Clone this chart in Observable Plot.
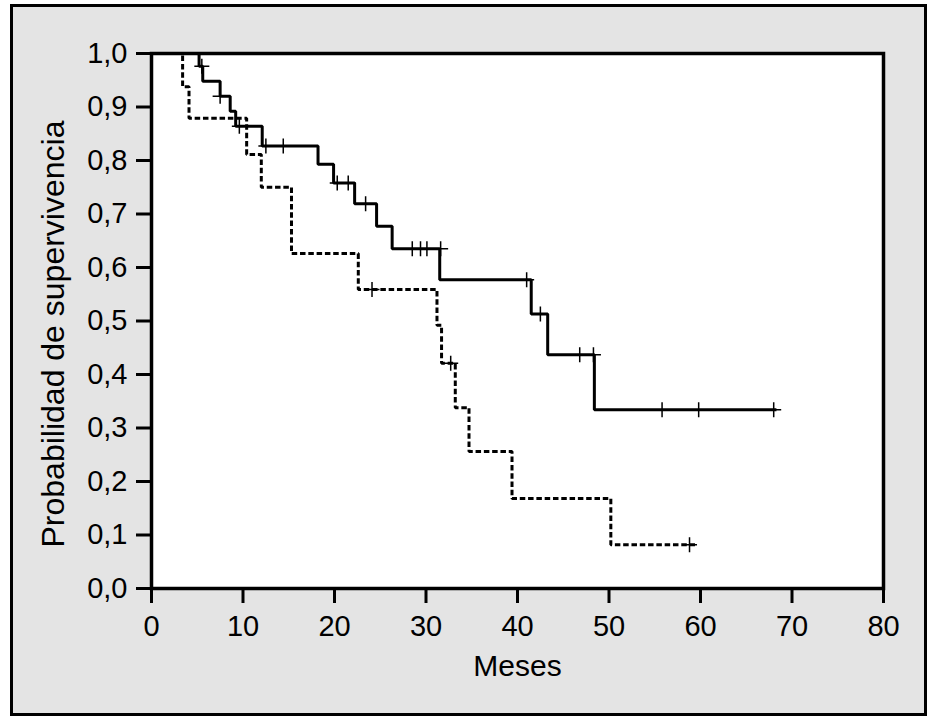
<!DOCTYPE html>
<html><head><meta charset="utf-8">
<script src="https://cdn.jsdelivr.net/npm/d3@7"></script>
<script src="https://cdn.jsdelivr.net/npm/@observablehq/plot@0.6"></script>
<style>
html,body{margin:0;padding:0;background:#fff;}
#wrap{position:relative;width:940px;height:724px;overflow:hidden;}
#box{position:absolute;left:10px;top:4px;width:917px;height:712px;box-sizing:border-box;border:3.5px solid #000;background:#e4e4e4;}
#chart{position:absolute;left:0;top:0;}
</style></head><body>
<div id="wrap"><div id="box"></div><div id="chart"></div></div>
<script>
// Solid curve: event times (months) and survival after each step
const solidTime = [0, 5.2, 5.6, 7.5, 8.6, 9.2, 12.1, 18.2, 19.9, 22.2, 24.6, 26.3, 31.5, 41.5, 43.3, 48.4, 68.3];
const solidSurv = [1.0, 0.976, 0.948, 0.920, 0.892, 0.864, 0.827, 0.793, 0.758, 0.719, 0.677, 0.635, 0.577, 0.513, 0.437, 0.334, 0.334];
const solidCensorTime = [5.5, 7.5, 9.6, 12.5, 14.4, 20.3, 21.5, 23.4, 28.5, 29.4, 30.1, 31.6, 41.0, 42.5, 46.8, 48.3, 55.8, 59.8, 68.0];
const solidCensorSurv = [0.976, 0.920, 0.864, 0.827, 0.827, 0.758, 0.758, 0.719, 0.635, 0.635, 0.635, 0.635, 0.577, 0.513, 0.437, 0.437, 0.334, 0.334, 0.334];

// Dashed curve
const dashedTime = [0, 3.4, 4.1, 10.4, 12.0, 15.3, 22.6, 31.2, 31.7, 33.2, 34.7, 39.4, 50.2, 59.4];
const dashedSurv = [1.0, 0.938, 0.879, 0.811, 0.750, 0.626, 0.559, 0.492, 0.421, 0.338, 0.256, 0.168, 0.082, 0.082];
const dashedCensorTime = [24.1, 32.7, 58.8];
const dashedCensorSurv = [0.559, 0.421, 0.082];

const xTicks = [0, 10, 20, 30, 40, 50, 60, 70, 80];
const yTicks = [0, 0.1, 0.2, 0.3, 0.4, 0.5, 0.6, 0.7, 0.8, 0.9, 1.0];
const xLabel = "Meses";
const yLabel = "Probabilidad de supervivencia";

const solid = solidTime.map((t, i) => ({t, s: solidSurv[i]}));
const dashed = dashedTime.map((t, i) => ({t, s: dashedSurv[i]}));
const censors = [
  ...solidCensorTime.map((t, i) => ({t, s: solidCensorSurv[i]})),
  ...dashedCensorTime.map((t, i) => ({t, s: dashedCensorSurv[i]}))
];

const plusSymbol = {
  draw(ctx, size) {
    const r = Math.sqrt(size / Math.PI);
    ctx.moveTo(-r, 0); ctx.lineTo(r, 0);
    ctx.moveTo(0, -r); ctx.lineTo(0, r);
  }
};

const fmt = d => d.toFixed(1).replace(".", ",");
const font = "'Liberation Sans', Arial, Helvetica, sans-serif";

const chart = Plot.plot({
  width: 940, height: 724,
  marginLeft: 151, marginRight: 57, marginTop: 53, marginBottom: 136,
  style: {background: "transparent", fontFamily: font, fontSize: "29px", color: "black"},
  x: {domain: [0, 80]},
  y: {domain: [0, 1]},
  marks: [
    Plot.frame({fill: "white", stroke: null}),
    Plot.axisX({ticks: xTicks, tickSize: 15, tickPadding: 12, strokeWidth: 3, label: null, fontSize: 29, fill: "black"}),
    Plot.axisY({ticks: yTicks, tickSize: 15, tickPadding: 9, strokeWidth: 3, label: null, tickFormat: fmt, fontSize: 29, fill: "black"}),
    Plot.line(solid, {x: "t", y: "s", curve: "step-after", stroke: "black", strokeWidth: 3, strokeLinecap: "butt", strokeLinejoin: "miter"}),
    Plot.line(dashed, {x: "t", y: "s", curve: "step-after", stroke: "black", strokeWidth: 3, strokeDasharray: "5.5,2.8", strokeLinecap: "butt", strokeLinejoin: "miter"}),
    Plot.dot(censors, {x: "t", y: "s", symbol: plusSymbol, r: 7.5, stroke: "black", strokeWidth: 1.5, fill: "none"}),
    Plot.frame({stroke: "black", strokeWidth: 3.5}),
    Plot.text([xLabel], {frameAnchor: "bottom", textAnchor: "middle", lineAnchor: "middle", dy: 78, fontSize: 30, fill: "black"}),
    Plot.text([yLabel], {frameAnchor: "left", textAnchor: "middle", lineAnchor: "middle", dx: -98, dy: 13, rotate: -90, fontSize: 32, fill: "black"})
  ]
});
document.getElementById("chart").appendChild(chart);
</script>
</body></html>
